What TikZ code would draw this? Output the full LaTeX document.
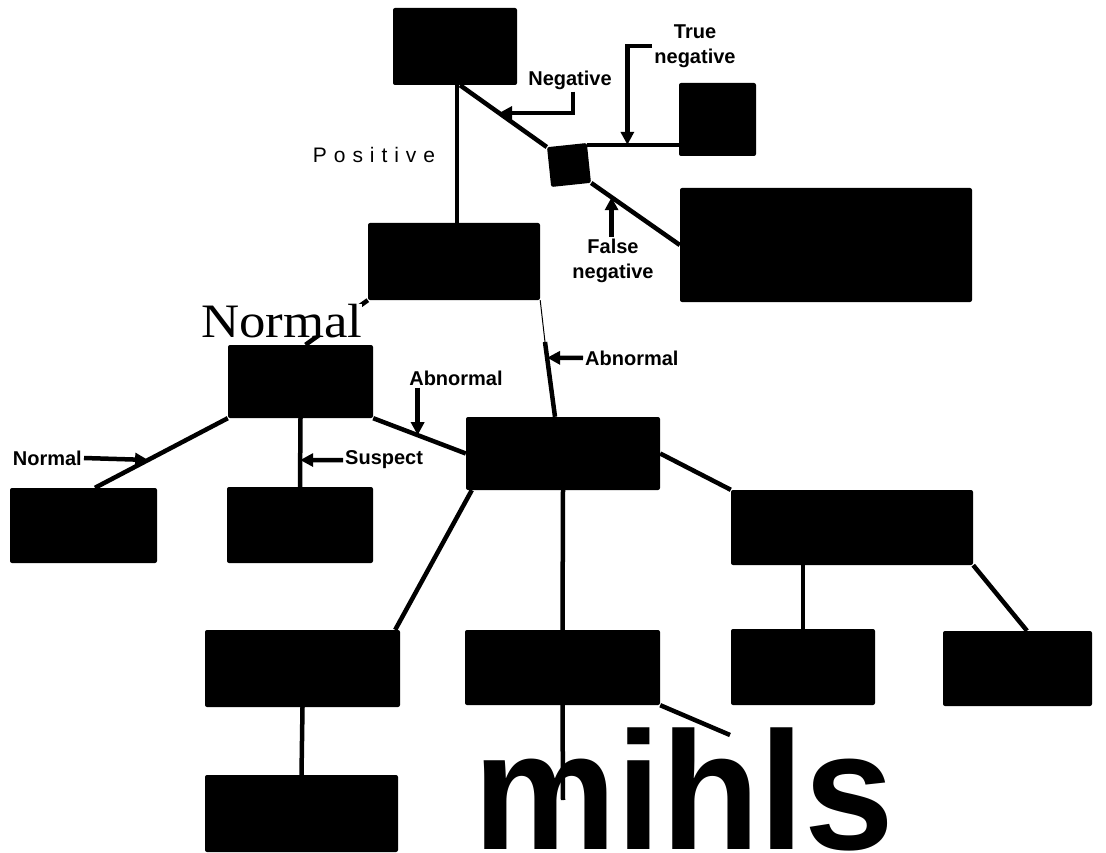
\documentclass[tikz,border=0pt]{standalone}
\usepackage{fontspec}
\setmainfont{Liberation Sans}
\newfontfamily\seriffont{Liberation Serif}
\usetikzlibrary{arrows.meta}

\begin{document}
\begin{tikzpicture}[x=1pt,y=-1pt]
\tikzset{
  blackbox/.style={fill=black,rounded corners=2pt,inner sep=0pt},
  link/.style={line width=4.5pt},
  thinlink/.style={line width=1pt},
  callout/.style={line width=4.5pt,-{Triangle[length=13pt,width=13pt]}},
  lbl/.style={font=\bfseries\fontsize{20}{25}\selectfont,inner sep=2pt}
}
\useasboundingbox[fill=white] (0,0) rectangle (1106,853);
% boxes
\node[blackbox,minimum width=124pt,minimum height=77pt] (n_top) at (455,46.5) {};
\node[blackbox,minimum width=40pt,minimum height=40pt,rotate=6] (n_dec) at (569,165) {};
\node[blackbox,minimum width=77pt,minimum height=73pt] (n_tn) at (717.5,119.5) {};
\node[blackbox,minimum width=292pt,minimum height=114pt] (n_fn) at (826,245) {};
\node[blackbox,minimum width=172pt,minimum height=77pt] (n_pos) at (454,261.5) {};
\node[blackbox,minimum width=145pt,minimum height=73pt] (n_nrm) at (300.5,381.5) {};
\node[blackbox,minimum width=194pt,minimum height=73pt] (n_ctr) at (563,453.5) {};
\node[blackbox,minimum width=147pt,minimum height=75pt] (n_la) at (83.5,525.5) {};
\node[blackbox,minimum width=146pt,minimum height=76pt] (n_lb) at (300,525) {};
\node[blackbox,minimum width=242pt,minimum height=75pt] (n_rt) at (852,527.5) {};
\node[blackbox,minimum width=195pt,minimum height=77pt] (n_q1) at (302.5,668.5) {};
\node[blackbox,minimum width=195pt,minimum height=75pt] (n_q2) at (562.5,667.5) {};
\node[blackbox,minimum width=144pt,minimum height=76pt] (n_q3) at (803,667) {};
\node[blackbox,minimum width=149pt,minimum height=75pt] (n_q4) at (1017.5,668.5) {};
\node[blackbox,minimum width=193pt,minimum height=77pt] (n_f1) at (301.5,813.5) {};
\coordinate (c_ab) at (545,342);
\coordinate (c_qa) at (730,735);
\coordinate (c_qb) at (563,800);
% connectors
\draw[link] ([xshift=2pt]n_top.south) -- ([xshift=3pt]n_pos.north);
\draw[link] ([xshift=5pt]n_top.south) -- coordinate[pos=0.45] (c_negtip) (n_dec.north west);
\draw[link] ([yshift=-2pt]n_dec.north east) -- coordinate[pos=0.44] (c_tntip) ([yshift=-2pt]n_dec.north east -| n_tn.west);
\draw[link] (n_dec.south east) -- coordinate[pos=0.23] (c_fntip) (n_fn.west);
\draw[link] (n_pos.south west) -- ([xshift=5pt]n_nrm.north);
\draw[thinlink] (n_pos.south east) -- (c_ab);
\draw[link] (c_ab) -- coordinate[pos=0.21] (c_abtip) ([xshift=-8pt]n_ctr.north);
\draw[link] (n_nrm.south west) -- coordinate[pos=0.6] (c_natip) ([xshift=11.5pt]n_la.north);
\draw[link] (n_nrm.south) -- coordinate[pos=0.61] (c_sutip) (n_lb.north);
\draw[link] (n_nrm.south east) -- coordinate[pos=0.48] (c_nctip) (n_ctr.west);
\draw[link] (n_ctr.east) -- (n_rt.north west);
\draw[link] ([xshift=6pt]n_ctr.south west) -- ([xshift=-5pt]n_q1.north east);
\draw[link] (n_ctr.south) -- (n_q2.north);
\draw[link] (n_q1.south) -- (n_f1.north);
\draw[link] (n_rt.south -| n_q3.north) -- (n_q3.north);
\draw[link] (n_rt.south east) -- ([xshift=9.5pt]n_q4.north);
\draw[link] (n_q2.south east) -- (c_qa);
\draw[link] (n_q2.south) -- (c_qb);
% labels
\node[lbl] (n_lneg) at (570,80) {Negative};
\node[lbl,align=center] (n_ltn) at (695,46) {True\\negative};
\node[lbl,align=center] (n_lfn) at (613,261) {False\\negative};
\node[font=\fontsize{21}{25}\selectfont\addfontfeature{LetterSpace=33},inner sep=2pt] (n_lpos) at (374,155) {Positive};
\node[font=\seriffont\fontsize{48}{50}\selectfont,fill=white,inner sep=0pt,text depth=0pt,anchor=base west] (n_lnorm) at (201,337) {\scalebox{1.1}[1]{Normal}};
\node[lbl,anchor=west] (n_lab1) at (583,358) {Abnormal};
\node[lbl] (n_lab2) at (456,378) {Abnormal};
\node[lbl,anchor=east] (n_lnl) at (84,458) {Normal};
\node[lbl,anchor=west] (n_lsus) at (343,460) {Suspect};
\node[font=\bfseries\fontsize{168}{168}\selectfont,inner sep=0pt,anchor=base west] (n_mihls) at (473,849) {\scalebox{0.96}[1]{mihls}};
% arrows
\draw[callout] ([xshift=3pt]n_lneg.south) |- (c_negtip);
\draw[callout] (n_ltn.west) -| (c_tntip);
\draw[callout] (n_lfn.north -| c_fntip) -- (c_fntip);
\draw[callout] (n_lab1.west) -- (c_abtip);
\draw[callout] (n_lab2.south west -| c_nctip) -- (c_nctip);
\draw[callout] (n_lnl.east) -- (c_natip);
\draw[callout] (n_lsus.west) -- (c_sutip);
\end{tikzpicture}
\end{document}
